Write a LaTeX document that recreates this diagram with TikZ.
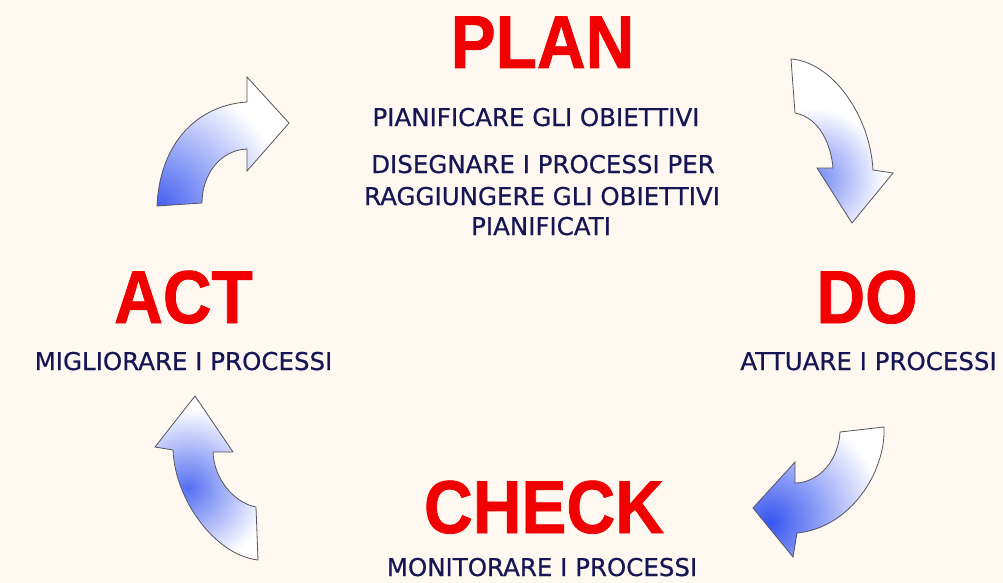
\documentclass[tikz,border=0pt]{standalone}
\usepackage{fontspec}
\newfontfamily\titlefont[FakeStretch=0.9,FakeBold=1]{Liberation Sans Bold}
\newfontfamily\bodyfont[FakeBold=0.6]{DejaVu Sans}
\definecolor{bgcream}{RGB}{254,248,241}
\definecolor{titlered}{RGB}{240,0,0}
\definecolor{navytext}{RGB}{22,22,85}
\definecolor{ablue}{RGB}{55,85,240}
\definecolor{aline}{RGB}{85,85,95}
\tikzset{
  title/.style={anchor=base, text=titlered, font=\titlefont\fontsize{75}{75}\selectfont, inner sep=0pt},
  body/.style={anchor=base, text=navytext, font=\bodyfont\fontsize{24.5}{24.5}\selectfont, inner sep=0pt},
  arrowline/.style={draw=aline, line width=0.8pt, line join=miter},
}
% arrow outlines (pixel coordinates)
\newcommand{\arrowA}{(157,206) .. controls (160,140) and (200,105) .. (247,102)
  -- (247,77) -- (289,123) -- (247,171) -- (247,149)
  .. controls (220,150) and (202,175) .. (202,203) -- cycle}
\newcommand{\arrowB}{(791,59) .. controls (832,62) and (870,115) .. (873,170)
  -- (893,173) -- (852,223) -- (817,168) -- (833,168)
  .. controls (831,145) and (820,118) .. (795,113) -- cycle}
\newcommand{\arrowC}{(840,432) -- (884,427) .. controls (886,472) and (850,528) .. (797,533)
  -- (793,557) -- (753,508) -- (795,462) -- (795,483)
  .. controls (815,483) and (838,465) .. (840,432) -- cycle}
\newcommand{\arrowD}{(256,507) -- (258,560) .. controls (215,555) and (175,500) .. (173,450)
  -- (155,447) -- (195,396) -- (233,452) -- (213,452)
  .. controls (214,480) and (235,503) .. (256,507) -- cycle}
\begin{document}
\begin{tikzpicture}[x=1pt,y=-1pt]
\fill[bgcream] (0,0) rectangle (1003,583);
\useasboundingbox (0,0) rectangle (1003,583);

% titles
\node[title] (plan) at (542.5,68) {PLAN};
\node[title] (act) at (183.5,323) {ACT};
\node[title] (do) at (867,323) {DO};
\node[title] (check) at (544,533) {CHECK};

% descriptions
\node[body] (plan1) at (536,126) {PIANIFICARE GLI OBIETTIVI};
\node[body] (plan2) at (543,173) {DISEGNARE I PROCESSI PER};
\node[body] (plan3) at (542,205) {RAGGIUNGERE GLI OBIETTIVI};
\node[body] (plan4) at (541,235) {PIANIFICATI};
\node[body] (actd) at (183.5,370) {MIGLIORARE I PROCESSI};
\node[body] (dod) at (868.5,370) {ATTUARE I PROCESSI};
\node[body] (checkd) at (542,576) {MONITORARE I PROCESSI};

% arrow ACT -> PLAN (top left)
\fill[white] \arrowA;
\begin{scope}
  \clip \arrowA;
  \shade[inner color=ablue, outer color=white] (152,212) circle (135);
\end{scope}
\draw[arrowline] \arrowA;

% arrow PLAN -> DO (top right)
\fill[white] \arrowB;
\begin{scope}
  \clip \arrowB;
  \shade[inner color=ablue!70!white, outer color=white] (815,178) circle (70);
\end{scope}
\draw[arrowline] \arrowB;

% arrow DO -> CHECK (bottom right)
\fill[white] \arrowC;
\begin{scope}
  \clip \arrowC;
  \shade[inner color=ablue, outer color=white] (770,522) circle (115);
\end{scope}
\draw[arrowline] \arrowC;

% arrow CHECK -> ACT (bottom left)
\fill[white] \arrowD;
\begin{scope}
  \clip \arrowD;
  \shade[inner color=ablue!85!white, outer color=white] (188,488) circle (80);
\end{scope}
\draw[arrowline] \arrowD;
\end{tikzpicture}
\end{document}
